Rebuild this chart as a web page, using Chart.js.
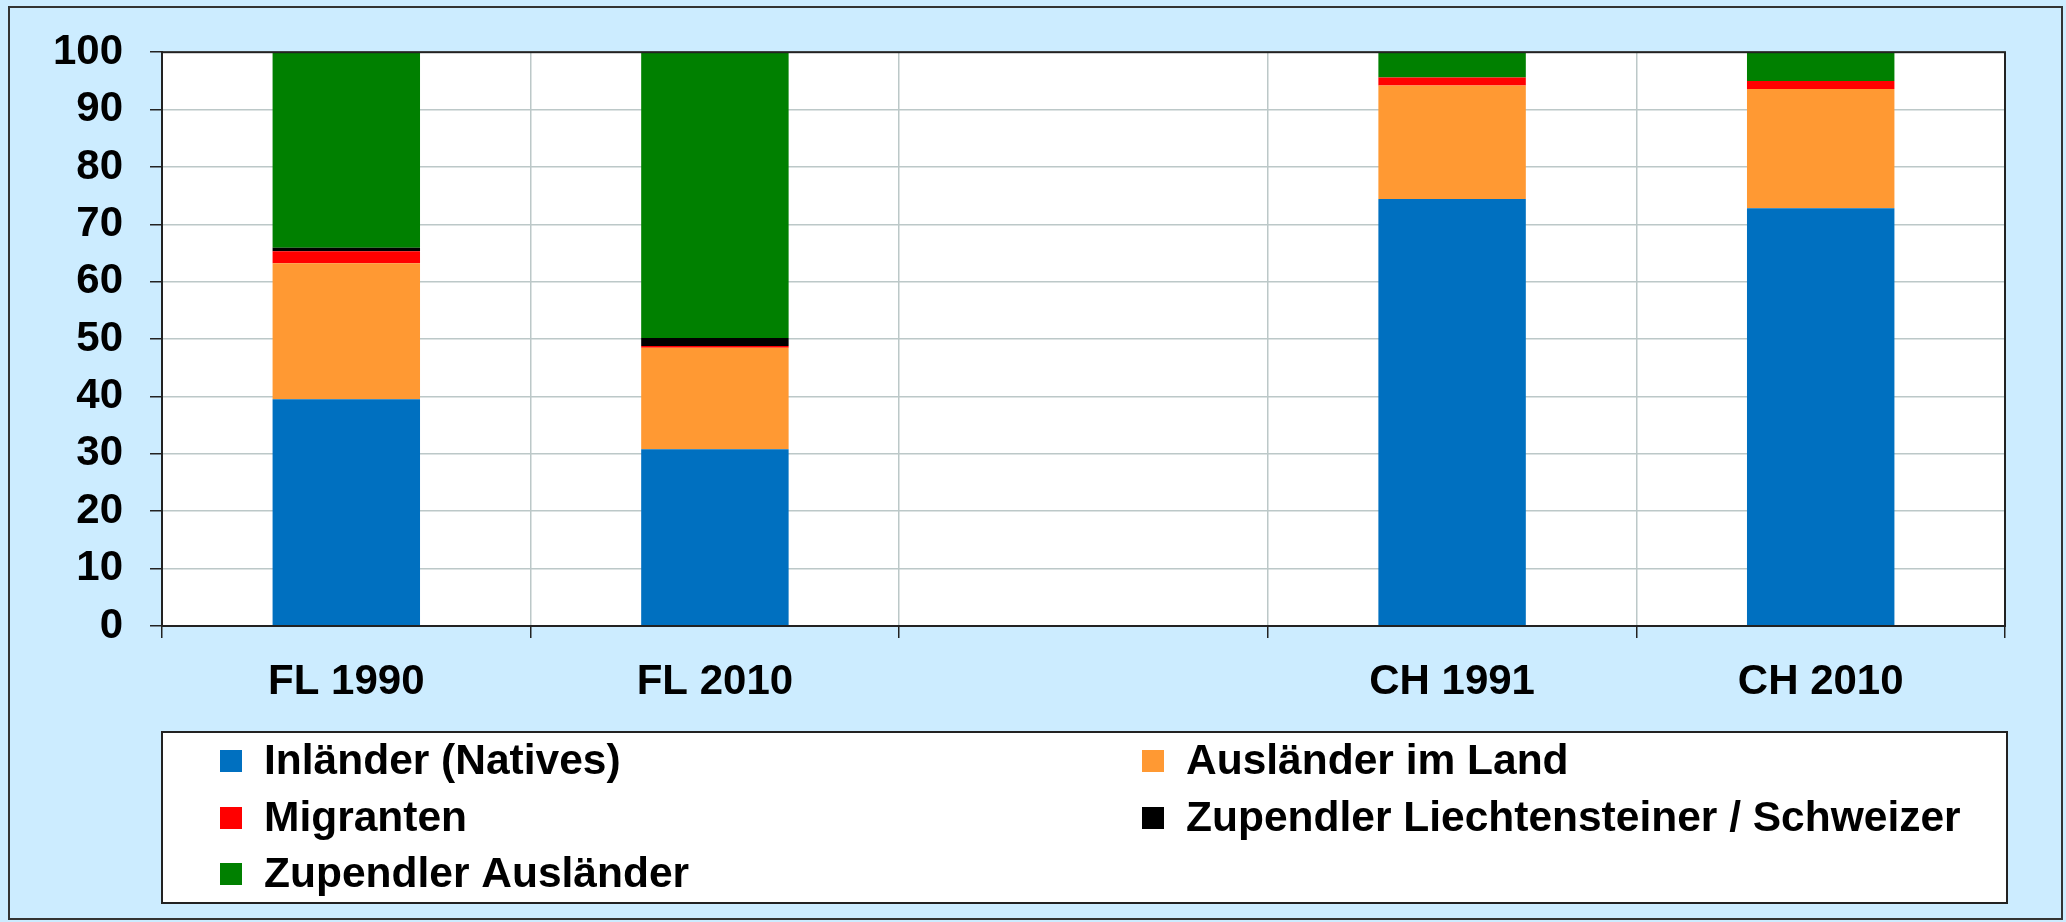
<!DOCTYPE html>
<html>
<head>
<meta charset="utf-8">
<script src="https://cdn.jsdelivr.net/npm/chart.js@4.4.0/dist/chart.umd.min.js"></script>
<style>
  html, body { margin: 0; padding: 0; background: #CCECFF; }
  #wrap { position: relative; width: 2066px; height: 922px; }
</style>
</head>
<body>
<div id="wrap"><canvas id="chart" width="2066" height="922"></canvas></div>
<script>
// categories (middle slot is empty in the original)
const categories = ['FL 1990', 'FL 2010', '', 'CH 1991', 'CH 2010'];

// share in percent, bottom to top of each stack
const inlaender = [39.5, 30.8, null, 74.4, 72.8];
const auslaenderImLand = [23.7, 17.7, null, 19.8, 20.8];
const migranten = [2.1, 0.3, null, 1.4, 1.4];
const zupendlerLiSchweizer = [0.6, 1.4, null, 0, 0];
const zupendlerAuslaender = [34.1, 49.8, null, 4.4, 5.0];

const yTicks = [0, 10, 20, 30, 40, 50, 60, 70, 80, 90, 100];

const FONT = 'Liberation Sans, Arial, sans-serif';

// background, white plot area, plot frame, outer frame
const framePlugin = {
  id: 'frame',
  beforeDraw(chart) {
    const { ctx, chartArea: a } = chart;
    ctx.save();
    ctx.fillStyle = '#CCECFF';
    ctx.fillRect(0, 0, chart.width, chart.height);
    ctx.strokeStyle = '#333';
    ctx.lineWidth = 2;
    ctx.strokeRect(9, 7, chart.width - 13, chart.height - 10);
    ctx.fillStyle = '#fff';
    ctx.fillRect(a.left, a.top, a.right - a.left, a.bottom - a.top);
    ctx.restore();
  },
  afterDraw(chart) {
    const { ctx, chartArea: a } = chart;
    ctx.save();
    ctx.strokeStyle = '#222';
    ctx.lineWidth = 2;
    ctx.strokeRect(a.left, a.top, a.right - a.left, a.bottom - a.top);
    ctx.restore();
  }
};

// two column legend in a white box below the axis
const legendPlugin = {
  id: 'boxLegend',
  afterDraw(chart) {
    const { ctx, chartArea: a } = chart;
    const top = 732, bottom = 903;
    ctx.save();
    ctx.fillStyle = '#fff';
    ctx.fillRect(a.left, top, a.right - a.left + 2, bottom - top);
    ctx.strokeStyle = '#222';
    ctx.lineWidth = 2;
    ctx.strokeRect(a.left, top, a.right - a.left + 2, bottom - top);
    const colX = [220, 1142];
    const rowY = [761, 818, 874];
    ctx.font = 'bold 42.5px ' + FONT;
    ctx.textBaseline = 'middle';
    ctx.textAlign = 'left';
    chart.data.datasets.forEach((ds, i) => {
      const x = colX[i % 2];
      const y = rowY[Math.floor(i / 2)];
      ctx.fillStyle = ds.backgroundColor;
      ctx.fillRect(x, y - 11, 22, 22);
      ctx.fillStyle = '#000';
      ctx.fillText(ds.label, x + 44, y + 1);
    });
    ctx.restore();
  }
};

const ctx = document.getElementById('chart').getContext('2d');
new Chart(ctx, {
  type: 'bar',
  data: {
    labels: categories,
    datasets: [
      { label: 'Inländer (Natives)', data: inlaender, backgroundColor: '#0070C0' },
      { label: 'Ausländer im Land', data: auslaenderImLand, backgroundColor: '#FF9933' },
      { label: 'Migranten', data: migranten, backgroundColor: '#FF0000' },
      { label: 'Zupendler Liechtensteiner / Schweizer', data: zupendlerLiSchweizer, backgroundColor: '#000000' },
      { label: 'Zupendler Ausländer', data: zupendlerAuslaender, backgroundColor: '#008000' },
    ],
  },
  options: {
    responsive: false,
    animation: false,
    devicePixelRatio: 1,
    layout: { padding: { top: 52, right: 61, bottom: 216, left: 0 } },
    datasets: {
      bar: { categoryPercentage: 1, barPercentage: 0.4, borderWidth: 0 },
    },
    plugins: {
      legend: { display: false },
      tooltip: { enabled: false },
    },
    scales: {
      x: {
        stacked: true,
        afterFit: (axis) => { axis.height = 80; },
        grid: { color: '#BCC8C8', lineWidth: 1.5, tickColor: '#222', tickLength: 12, offset: true },
        border: { color: '#222', width: 2 },
        ticks: { color: '#000', padding: 19, font: { family: FONT, size: 42, weight: 'bold' } },
      },
      y: {
        stacked: true,
        min: 0,
        max: 100,
        afterFit: (axis) => { axis.width = 162; },
        afterBuildTicks: (axis) => { axis.ticks = yTicks.map(v => ({ value: v })); },
        grid: { color: '#BCC8C8', lineWidth: 1.5, tickColor: '#222', tickLength: 12 },
        border: { color: '#222', width: 2 },
        ticks: { color: '#000', padding: 27, font: { family: FONT, size: 42, weight: 'bold' } },
      },
    },
  },
  plugins: [framePlugin, legendPlugin],
});
</script>
</body>
</html>
